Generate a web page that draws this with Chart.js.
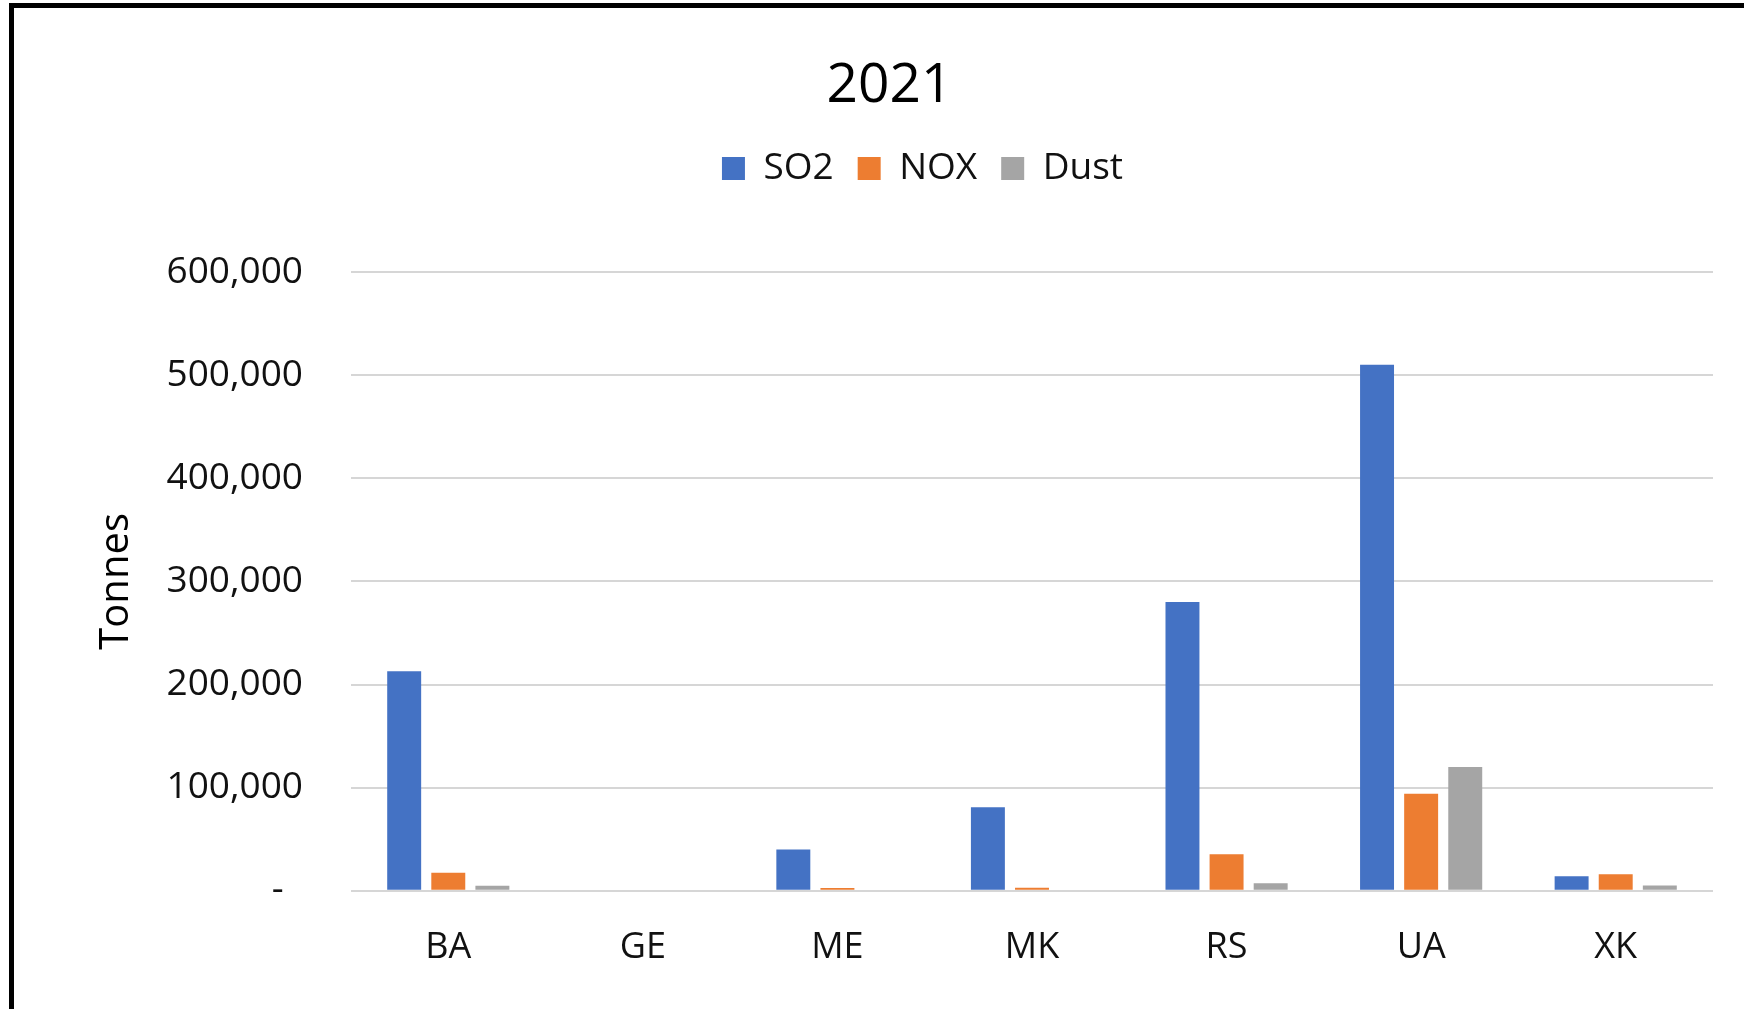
<!DOCTYPE html>
<html>
<head>
<meta charset="utf-8">
<title>2021 emissions</title>
<script src="https://cdn.jsdelivr.net/npm/chart.js@4.4.1/dist/chart.umd.min.js"></script>
<style>
  html, body { margin: 0; padding: 0; background: #ffffff; overflow: hidden; }
  #Chart__Container { position: relative; width: 1744px; height: 1009px; }
  /* black frame of the original picture, only left and top edges are visible */
  #Chart__Frame {
    position: absolute; left: 9px; top: 3px; right: -20px; bottom: -20px;
    border: 5px solid #000000; pointer-events: none;
  }
</style>
</head>
<body>
<div id="Chart__Container">
  <canvas id="Emission__Chart" width="1744" height="1009"></canvas>
  <div id="Chart__Frame"></div>
</div>
<script>
/* Countries on the x axis */
const Countries = ["BA", "GE", "ME", "MK", "RS", "UA", "XK"];
/* Emissions in tonnes for each country */
const SO2Values = [213000, 0, 40000, 81000, 280000, 510000, 14000];
const NOXValues = [17500, 0, 2700, 2900, 35500, 94000, 16000];
const DustValues = [4800, 0, 0, 0, 7400, 120000, 5200];
/* Series names and colours */
const SeriesNames = ["SO2", "NOX", "Dust"];
const SeriesColors = ["#4472C4", "#ED7D31", "#A5A5A5"];
/* y axis range */
const AxisMax = 600000;
const AxisStep = 100000;

const TextColor = "#111111";
const GridColor = "#d6d6d6";

Chart.defaults.font.family = "'Open Sans', sans-serif";
Chart.defaults.color = TextColor;

/* extra room between the legend and the plot */
const LegendExtraHeight = 75;
/* horizontal nudge of the legend */
const LegendShift = 33;

const legendSpacing = {
  id: "legendSpacing",
  beforeInit(chart) {
    const originalFit = chart.legend.fit;
    chart.legend.fit = function fit() {
      originalFit.bind(chart.legend)();
      this.height += LegendExtraHeight;
    };
  },
  afterLayout(chart) {
    chart.legend.left += LegendShift;
    chart.legend.right += LegendShift;
  }
};

const SeriesValues = [SO2Values, NOXValues, DustValues];

const seriesSets = SeriesNames.map((name, i) => ({
  label: name,
  data: SeriesValues[i],
  backgroundColor: SeriesColors[i],
  borderWidth: 0,
  categoryPercentage: 0.68,
  barPercentage: 0.77
}));

const myChart = new Chart(document.getElementById("Emission__Chart"), {
  type: "bar",
  plugins: [legendSpacing],
  data: {
    labels: Countries,
    datasets: seriesSets
  },
  options: {
    responsive: false,
    animation: false,
    layout: {
      padding: { top: 20, left: 66, right: 31, bottom: 13 }
    },
    plugins: {
      tooltip: { enabled: false },
      title: {
        display: true,
        text: "2021",
        color: "#000000",
        font: { size: 55, weight: "normal", lineHeight: 1.0 },
        padding: { top: 39, bottom: 12 }
      },
      legend: {
        display: true,
        position: "top",
        labels: {
          color: TextColor,
          font: { size: 37 },
          boxWidth: 23,
          boxHeight: 23,
          padding: 24
        }
      }
    },
    scales: {
      x: {
        grid: { display: false },
        border: { display: false },
        ticks: {
          font: { size: 36 },
          padding: 27,
          color: TextColor
        }
      },
      y: {
        min: 0,
        max: AxisMax,
        border: { display: false },
        grid: { color: GridColor, lineWidth: 2, drawTicks: false },
        ticks: {
          stepSize: AxisStep,
          padding: 48,
          font: { size: 37 },
          color: TextColor,
          /* zero is shown as a dash like in accounting format */
          callback: (value) => value === 0 ? "-  " : value.toLocaleString("en-US")
        },
        title: {
          display: true,
          text: "Tonnes",
          color: "#000000",
          font: { size: 40 },
          padding: { top: 27, bottom: 0 }
        },
        afterFit(scale) {
          scale.width = 285;
        }
      }
    }
  }
});
</script>
</body>
</html>
